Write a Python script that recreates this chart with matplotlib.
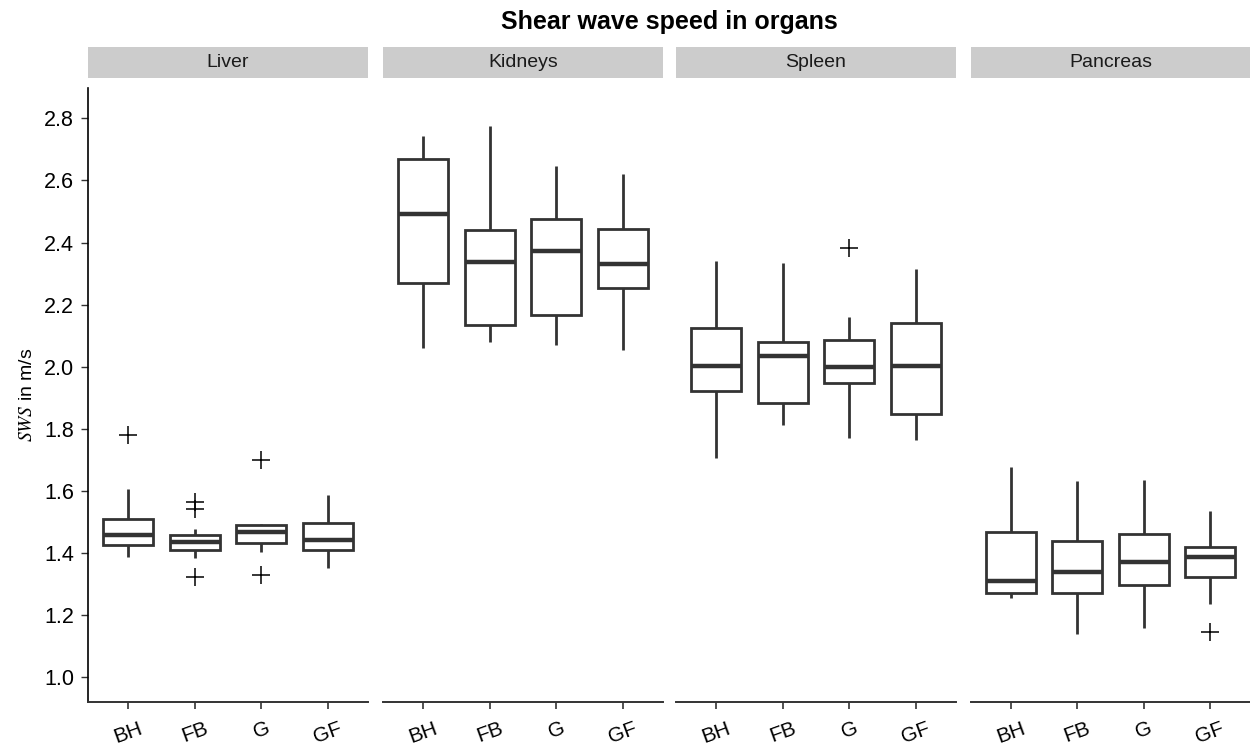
"""Faceted boxplots of shear wave speed per organ and breathing group."""

import matplotlib
matplotlib.use("Agg")
import matplotlib.pyplot as plt
from matplotlib.patches import Rectangle
from matplotlib.ticker import FormatStrFormatter

organs = ["Liver", "Kidneys", "Spleen", "Pancreas"]
groups = ["BH", "FB", "G", "GF"]

# one row per organ, one value per group (BH, FB, G, GF)
whislo = [
    [1.386, 1.383, 1.403, 1.350],
    [2.060, 2.080, 2.070, 2.055],
    [1.705, 1.813, 1.770, 1.762],
    [1.255, 1.137, 1.159, 1.234],
]
q1 = [
    [1.424, 1.408, 1.430, 1.408],
    [2.271, 2.134, 2.166, 2.252],
    [1.921, 1.882, 1.946, 1.848],
    [1.271, 1.271, 1.296, 1.323],
]
med = [
    [1.457, 1.435, 1.467, 1.440],
    [2.491, 2.338, 2.373, 2.332],
    [2.003, 2.033, 1.998, 2.003],
    [1.309, 1.339, 1.369, 1.385],
]
q3 = [
    [1.508, 1.457, 1.489, 1.497],
    [2.668, 2.440, 2.475, 2.445],
    [2.124, 2.078, 2.086, 2.139],
    [1.467, 1.437, 1.462, 1.419],
]
whishi = [
    [1.605, 1.476, 1.494, 1.585],
    [2.743, 2.777, 2.646, 2.622],
    [2.341, 2.335, 2.159, 2.316],
    [1.678, 1.630, 1.636, 1.534],
]
outliers = [
    [[1.781], [1.564, 1.542, 1.323], [1.700, 1.328], []],
    [[], [], [], []],
    [[], [], [2.382], []],
    [[], [], [], [1.146]],
]

plt.rcParams["font.family"] = ["Liberation Sans", "DejaVu Sans"]
plt.rcParams["mathtext.fontset"] = "stix"

W, H = 1250, 746
fig = plt.figure(figsize=(W / 100, H / 100), dpi=100)

panel_left = [88, 383, 676, 971]
panel_w = 280
ax_top, ax_bot = 88, 702
strip_top, strip_bot = 47, 78.3
dark = "#333333"

for i, organ in enumerate(organs):
    x0 = panel_left[i]
    w = panel_w if i < 3 else W - x0
    ax = fig.add_axes([x0 / W, 1 - ax_bot / H, w / W, (ax_bot - ax_top) / H])

    stats = []
    for j, g in enumerate(groups):
        stats.append({
            "label": g,
            "whislo": whislo[i][j],
            "q1": q1[i][j],
            "med": med[i][j],
            "q3": q3[i][j],
            "whishi": whishi[i][j],
            "fliers": outliers[i][j],
        })

    ax.bxp(
        stats,
        positions=range(1, len(groups) + 1),
        widths=0.75,
        showcaps=False,
        patch_artist=True,
        boxprops=dict(facecolor="white", edgecolor=dark, linewidth=2.0),
        whiskerprops=dict(color=dark, linewidth=2.0, solid_capstyle="butt"),
        medianprops=dict(color=dark, linewidth=3.2, solid_capstyle="butt"),
        flierprops=dict(marker="+", markersize=13, markeredgecolor="black",
                        markeredgewidth=1.1, linestyle="none"),
    )

    ax.set_xlim(0.4, 4.6)
    ax.set_ylim(0.919, 2.898)
    ax.set_yticks([1.0, 1.2, 1.4, 1.6, 1.8, 2.0, 2.2, 2.4, 2.6, 2.8])
    ax.set_xticks(range(1, len(groups) + 1))
    ax.set_xticklabels(groups, rotation=20, fontsize=15, color="black")

    for side in ("top", "right"):
        ax.spines[side].set_visible(False)
    ax.spines["bottom"].set_color(dark)
    ax.spines["bottom"].set_linewidth(1.4)
    ax.tick_params(axis="x", length=5, width=1.2, color=dark, pad=7)

    if i == 0:
        ax.spines["left"].set_color("black")
        ax.spines["left"].set_linewidth(1.2)
        ax.tick_params(axis="y", length=5, width=1.0, color=dark,
                       labelsize=15.5, labelcolor="black", pad=5)
        ax.yaxis.set_major_formatter(FormatStrFormatter("%.1f"))
        ax.set_ylabel(r"$SWS$ in m/s", fontsize=14, labelpad=6)
    else:
        ax.spines["left"].set_visible(False)
        ax.tick_params(axis="y", left=False, labelleft=False)

    # facet strip above the panel
    fig.patches.append(Rectangle(
        (x0 / W, 1 - strip_bot / H), w / W, (strip_bot - strip_top) / H,
        transform=fig.transFigure, facecolor="#cccccc", edgecolor="none",
    ))
    fig.text((x0 + w / 2) / W, 1 - (strip_top + strip_bot) / 2 / H, organ,
             ha="center", va="center", fontsize=14, color="#1a1a1a")

fig.text(669 / W, 1 - 22 / H, "Shear wave speed in organs",
         ha="center", va="center", fontsize=18, fontweight="bold")

fig.savefig("out.png", dpi=100)
